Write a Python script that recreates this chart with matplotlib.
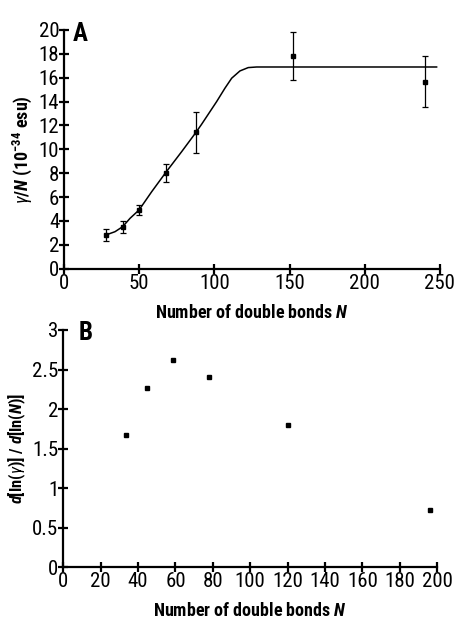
import matplotlib.pyplot as plt

# Painel A: gamma/N contra N
n_a = [27.7, 39.0, 49.9, 67.6, 87.8, 152.0, 240.0]
gamma_n = [2.82, 3.52, 4.92, 8.05, 11.43, 17.83, 15.68]
erro_a = [0.5, 0.5, 0.4, 0.75, 1.7, 2.0, 2.1]

# curva ajustada
curva_n = [27.7, 33.9, 39.0, 43.9, 49.9, 58.3, 67.6, 78.2, 87.8, 91.5, 101.5,
           107.0, 111.5, 117.0, 122.5, 128.1, 247.8]
curva_y = [2.82, 3.10, 3.52, 4.22, 4.92, 6.45, 8.05, 9.80, 11.43, 12.10, 14.00,
           15.12, 15.96, 16.57, 16.85, 16.90, 16.90]

# Painel B: derivada logaritmica
n_b = [33.5, 44.6, 58.8, 77.9, 120.0, 196.1]
deriv = [1.676, 2.263, 2.62, 2.40, 1.80, 0.724]

fonte = ['Roboto Condensed', 'DejaVu Sans']
plt.rcParams['font.family'] = fonte
plt.rcParams['mathtext.fontset'] = 'custom'
plt.rcParams['mathtext.rm'] = 'Roboto Condensed'
plt.rcParams['mathtext.it'] = 'Roboto Condensed:italic'
plt.rcParams['mathtext.bf'] = 'Roboto Condensed:bold'
plt.rcParams['mathtext.bfit'] = 'Roboto Condensed:italic:bold'

fig = plt.figure(figsize=(4.54, 6.21), dpi=100)
ax1 = fig.add_axes([0.141, 0.5673, 0.828, 0.3844])
ax2 = fig.add_axes([0.1394, 0.0865, 0.8236, 0.3821])


def estilo(ax):
    for lado in ['top', 'right']:
        ax.spines[lado].set_visible(False)
    for lado in ['left', 'bottom']:
        ax.spines[lado].set_linewidth(1.6)
    ax.tick_params(direction='inout', length=7, width=1.6, labelsize=15, pad=0)


# painel A
ax1.plot(curva_n, curva_y, color='black', lw=1.1)
ax1.errorbar(n_a, gamma_n, yerr=erro_a, fmt='s', color='black', ms=2.5,
             elinewidth=0.9, capsize=2, capthick=0.9)
ax1.set_xlim(0, 250)
ax1.set_ylim(0, 20)
ax1.set_xticks(range(0, 251, 50))
ax1.set_yticks(range(0, 21, 2))
estilo(ax1)
ax1.set_xlabel(r'Number of double bonds $\mathbfit{N}$', fontsize=13, fontweight='bold',
               labelpad=8)
ax1.set_ylabel(r'$\gamma$/$\mathbfit{N}$ (10$^{\mathbf{-34}}$ esu)', fontsize=13,
               fontweight='bold', labelpad=3)
ax1.text(0.022, 1.035, 'A', transform=ax1.transAxes, fontsize=18, fontweight='bold',
         va='top')

# painel B
ax2.plot(n_b, deriv, 's', color='black', ms=2.5)
ax2.set_xlim(0, 200)
ax2.set_ylim(0, 3)
ax2.set_xticks(range(0, 201, 20))
ax2.set_yticks([0, 0.5, 1, 1.5, 2, 2.5, 3])
ax2.set_yticklabels(['0', '0.5', '1', '1.5', '2', '2.5', '3'])
estilo(ax2)
ax2.set_xlabel(r'Number of double bonds $\mathbfit{N}$', fontsize=13, fontweight='bold',
               labelpad=8)
ax2.set_ylabel(r'$\mathbfit{d}$[ln($\gamma$)] / $\mathbfit{d}$[ln($\mathbfit{N}$)]',
               fontsize=12, fontweight='bold', labelpad=3)
ax2.text(0.04, 1.04, 'B', transform=ax2.transAxes, fontsize=18, fontweight='bold',
         va='top')

fig.savefig('out.png', dpi=100)
